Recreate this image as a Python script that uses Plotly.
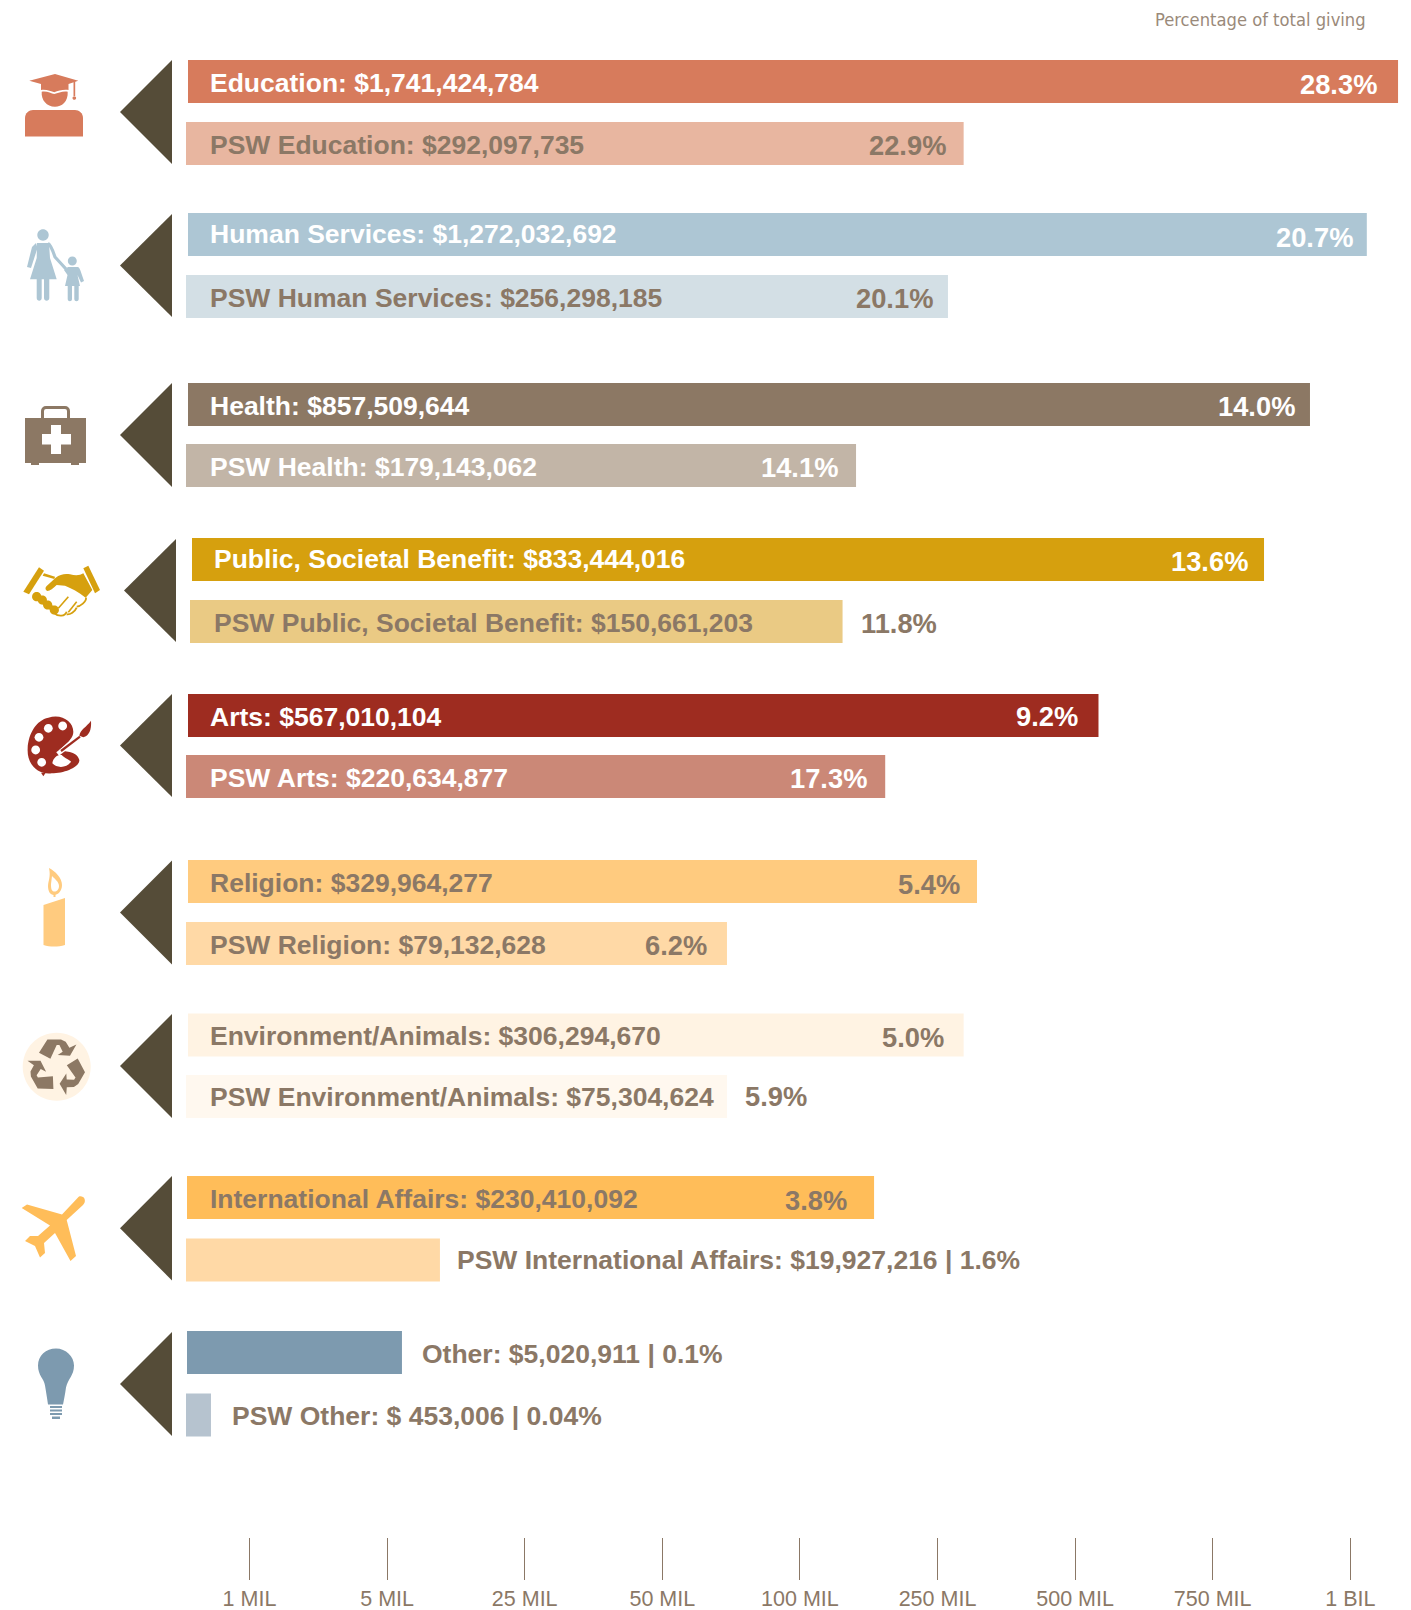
import math
import re
import plotly.graph_objects as go

# ---------- data ----------
categories = ["Education", "Human Services", "Health", "Public, Societal Benefit", "Arts",
              "Religion", "Environment/Animals", "International Affairs", "Other"]
total_amounts = ["$1,741,424,784", "$1,272,032,692", "$857,509,644", "$833,444,016", "$567,010,104",
                 "$329,964,277", "$306,294,670", "$230,410,092", "$5,020,911"]
psw_amounts = ["$292,097,735", "$256,298,185", "$179,143,062", "$150,661,203", "$220,634,877",
               "$79,132,628", "$75,304,624", "$19,927,216", "$ 453,006"]
total_pct = ["28.3%", "20.7%", "14.0%", "13.6%", "9.2%", "5.4%", "5.0%", "3.8%", "0.1%"]
psw_pct = ["22.9%", "20.1%", "14.1%", "11.8%", "17.3%", "6.2%", "5.9%", "1.6%", "0.04%"]
# bar ends as read on the chart's tick-indexed axis (0 = 1 MIL ... 8 = 1 BIL)
total_end = [8.347, 8.12, 7.707, 7.373, 6.17, 5.287, 5.19, 4.539, 1.108]
psw_end = [5.19, 5.076, 4.408, 4.31, 4.62, 3.47, 3.47, 1.384, -0.28]
tick_labels = ["1 MIL", "5 MIL", "25 MIL", "50 MIL", "100 MIL", "250 MIL", "500 MIL", "750 MIL", "1 BIL"]

# ---------- styles ----------
total_colors = ["#D77B5C", "#ADC6D4", "#8C7864", "#D6A00E", "#9E2C20", "#FFCB7F", "#FFF3E3", "#FFBD59", "#7D9AAF"]
psw_colors = ["#E8B6A0", "#D3DFE5", "#C2B5A7", "#EACA84", "#CB8877", "#FFD9A6", "#FFF8EF", "#FFD9A6", "#B6C3CF"]
icon_colors = total_colors
BROWN = "#8B7866"
WHITE = "#FFFFFF"
NONE = "rgba(0,0,0,0)"
TRI = "#554C38"
W, H = 1411, 1610
PLOT_H = 1537
TICK0, TICKSTEP = 249.5, 137.6
total_text_color = [WHITE] * 5 + [BROWN] * 4
psw_text_color = [BROWN, BROWN, WHITE, BROWN, WHITE, BROWN, BROWN, BROWN, BROWN]

# ---------- layout constants (pixels in the page) ----------
BAR_H = 43
total_tops = [60, 213, 383, 538, 694, 860, 1013.5, 1176, 1331]
psw_tops = [122, 275, 444, 600, 755, 922, 1075, 1238.5, 1393.5]
total_start = [188, 188, 188, 192, 188, 188, 188, 187, 187]
psw_start = [186, 186, 186, 190, 186, 186, 186, 186, 186]
total_label_x = [210] * 3 + [214] + [210] * 4 + [421.5]
psw_label_x = [210] * 3 + [214] + [210] * 3 + [456.5, 231.5]
total_label_y = [83, 234, 405.5, 558.5, 716.5, 883, 1036, 1199, 1354]
psw_label_y = [145, 298, 467, 623, 778, 944.5, 1096.5, 1260, 1416]
total_pct_r = [1376.5, 1353, 1294.5, 1247.5, 1078, 959.5, 943.5, 846.5, None]
psw_pct_r = [945.5, 932.5, 837.5, 936.5, 867, 706.5, 807, None, None]
total_pct_y = [84, 237, 406.5, 561.5, 716.5, 884, 1037, 1200, None]
psw_pct_y = [145, 298, 467, 623, 778, 945.5, 1096.5, None, None]
tri_tops = [60, 214, 383, 539, 694, 860.5, 1014, 1176, 1332]
tri_bottoms = [164, 317, 487, 642, 797, 964.5, 1118, 1280.5, 1436]
tri_x = [(120, 172)] * 3 + [(124, 176)] + [(120, 172)] * 5


def to_axis(px):
    return (px - TICK0) / TICKSTEP


fig = go.Figure()
fig.add_trace(go.Bar(
    name="Total", orientation="h",
    base=[to_axis(s) for s in total_start],
    x=[e - to_axis(s) for e, s in zip(total_end, total_start)],
    y=[t + BAR_H / 2 for t in total_tops], width=BAR_H,
    marker=dict(color=total_colors, line_width=0), hoverinfo="skip"))
fig.add_trace(go.Bar(
    name="PSW", orientation="h",
    base=[to_axis(s) for s in psw_start],
    x=[e - to_axis(s) for e, s in zip(psw_end, psw_start)],
    y=[t + BAR_H / 2 for t in psw_tops], width=BAR_H,
    marker=dict(color=psw_colors, line_width=0), hoverinfo="skip"))
# invisible trace that activates the pixel-based overlay axis
fig.add_trace(go.Scatter(x=[0, W], y=[0, 0], xaxis="x2", mode="none", hoverinfo="skip", showlegend=False))

annotations = []


def label(x, y, text, color, anchor="left", size=26.5):
    annotations.append(dict(x=x, y=y, xref="x2", yref="y", text=text, showarrow=False,
                            xanchor=anchor, yanchor="middle", align=anchor, borderpad=0, borderwidth=0,
                            font=dict(color=color, family="Liberation Sans", size=size, weight=700)))


for i, cat in enumerate(categories):
    t_txt = f"{cat}: {total_amounts[i]}"
    if total_pct_r[i] is None:
        t_txt += f" | {total_pct[i]}"
    else:
        label(total_pct_r[i], total_pct_y[i], total_pct[i], total_text_color[i], "right", 27.3)
    label(total_label_x[i], total_label_y[i], t_txt, total_text_color[i])
    p_txt = f"PSW {cat}: {psw_amounts[i]}"
    if psw_pct_r[i] is None:
        p_txt += f" | {psw_pct[i]}"
    else:
        label(psw_pct_r[i], psw_pct_y[i], psw_pct[i], psw_text_color[i], "right", 27.3)
    label(psw_label_x[i], psw_label_y[i], p_txt, psw_text_color[i])

annotations.append(dict(x=1365.5, y=19, xref="x2", yref="y", text="Percentage of total giving", showarrow=False,
                        xanchor="right", yanchor="middle", borderpad=0, borderwidth=0,
                        font=dict(family="DejaVu Sans Condensed, DejaVu Sans", size=18.2, color="#9A8A7A")))

# ---------- decorative shapes ----------
shapes = []


def add(path, fill, lw=0, lc=None):
    shapes.append(dict(type="path", path=path, xref="x2", yref="y", layer="above",
                       fillcolor=fill, line=dict(width=lw, color=lc or fill)))


def zp(x0, y0, path):
    """Map 'u,v' pairs measured on a 3x view with origin (x0, y0) to page pixels."""
    return re.sub(r"(-?\d+\.?\d*),(-?\d+\.?\d*)",
                  lambda m: f"{x0 + float(m[1]) / 3:.2f},{y0 + float(m[2]) / 3:.2f}", path)


def circle(cx, cy, rx, ry=None):
    ry = rx if ry is None else ry
    k = 0.5523
    return (f"M{cx-rx},{cy} C{cx-rx},{cy-k*ry} {cx-k*rx},{cy-ry} {cx},{cy-ry} "
            f"C{cx+k*rx},{cy-ry} {cx+rx},{cy-k*ry} {cx+rx},{cy} "
            f"C{cx+rx},{cy+k*ry} {cx+k*rx},{cy+ry} {cx},{cy+ry} "
            f"C{cx-k*rx},{cy+ry} {cx-rx},{cy+k*ry} {cx-rx},{cy} Z")


def poly(pts):
    return "M" + " L".join(f"{x:.1f},{y:.1f}" for x, y in pts) + " Z"


for (x0, x1), t, b in zip(tri_x, tri_tops, tri_bottoms):
    add(poly([(x1, t), (x1, b), (x0, (t + b) / 2)]), TRI)

# graduate
c = icon_colors[0]
add("M25,118 C25,113 29,110 33,110 H75 C79,110 83,113 83,118 V136.5 H25 Z", c)
add("M41.7,91.7 C46.7,90.7 51,93.3 54.3,94 C58.3,92.7 63.3,90.7 67.7,91.7 C68.3,101.7 61.7,106.7 55,106.7 "
    "C46.7,106.7 41,100 41.7,91.7 Z", c)
add("M29.3,80.7 L55,74 L78.3,80.7 L68.5,84 V90 C63.3,89.3 58.3,90.7 54.3,92.3 C51,91.3 46.7,89.3 41,90 V84 Z", c)
add("M73.5,81 H75.2 V96 H73.5 Z", c)
add(circle(74.3, 98, 1.8), c)
# family
c = icon_colors[1]
add(circle(43, 235, 5.7), c)
add("M37,243 H49 L50,258 L56.7,279.3 H30 L36.7,258 Z", c)
add(poly([(36, 243), (37.5, 248), (31, 268), (27, 267), (32, 247)]), c)
add("M48,243.5 C51,245 53,251 55,257 L66,269", NONE, 3.2, c)
add("M36.7,279 H41.7 V298 C41.7,301.5 36.7,301.5 36.7,298 Z M44,279 H49.3 V298 C49.3,301.5 44,301.5 44,298 Z", c)
add(circle(72.3, 261, 4.5), c)
add("M68,267 H78 C80,268 81,272 84,281 L81,282.5 L77.5,275 L80,286 H65 L67.5,275 L64,270 Z", c)
add("M67.7,286 H72 V299 C72,302 67.7,302 67.7,299 Z M74.3,286 H78.7 V299 C78.7,302 74.3,302 74.3,299 Z", c)
# medical bag
c = icon_colors[2]
add("M25,418 H86 V463 H79 V465 H71 V463 H39 V465 H31 V463 H25 Z", c)
add("M42.5,418 V411 C42.5,409 44,407.5 46,407.5 H65 C67,407.5 68.5,409 68.5,411 V418", NONE, 3, c)
add("M51,425 H61 V434 H71 V444.5 H61 V454 H51 V444.5 H42 V434 H51 Z", WHITE)
# handshake
c = icon_colors[3]
add(zp(15, 555, "M25,110 L72,37 L87,47 L42,118 Z"), c)
add(zp(15, 555, "M205,40 L220,32 L255,105 L240,115 Z"), c)
add(zp(15, 555, "M205,55 L232,105 L212,128 C190,110 170,100 150,92 L125,90 C115,100 105,108 97,108 "
                "C90,105 90,98 95,93 L122,68 C135,58 150,55 165,58 C180,62 195,62 205,55 Z"), c)
add(zp(15, 555, "M87,55 L120,65 L118,72 L83,62 Z"), c)
add(zp(15, 555, "M65,125 L118,165"), NONE, 5, c)
for u, v in [(65, 125), (82, 135), (98, 150), (118, 165)]:
    add(circle(15 + u / 3, 555 + v / 3, 4.6), c)
add(zp(15, 555, "M118,175 C130,185 150,185 155,170"), NONE, 1.8, c)
add(zp(15, 555, "M155,178 C165,180 180,170 185,158"), NONE, 1.8, c)
add(zp(15, 555, "M185,155 C195,155 215,140 213,128"), NONE, 1.8, c)
add(zp(15, 555, "M130,160 L160,125"), NONE, 1.6, c)
add(zp(15, 555, "M160,172 L185,140"), NONE, 1.6, c)
# palette
c = icon_colors[4]
add(zp(15, 705, "M100,38 C140,25 175,50 175,80 C175,95 165,105 155,115 L133,135 C145,142 185,135 193,165 "
                "C195,185 150,205 110,205 C70,210 35,180 38,130 C40,85 65,45 100,38 Z"), c)
add(zp(15, 705, "M78,203 L92,203 L85,214 Z"), c)
for u, v in [(100, 70), (143, 63), (72, 97), (62, 135), (80, 172)]:
    add(circle(15 + u / 3, 705 + v / 3, 4.4), WHITE)
add(zp(15, 705, "M112,175 C115,155 130,148 140,150 C150,160 165,165 168,170 C155,190 125,190 112,175 Z"), WHITE)
add(zp(15, 705, "M128,147 L190,98"), NONE, 4.5, WHITE)
add(zp(15, 705, "M138,138 L195,95"), NONE, 2.2, c)
add(zp(15, 705, "M193,92 C195,75 215,65 228,47 C230,75 222,92 205,97 Z"), c)
# candle
c = icon_colors[5]
add("M43.5,905 L65,898 V945 C58,947 50,947 43.5,945 Z", c)
add("M53.5,897 V892 H55.5 V897 Z", c)
add("M49,868 C55,871 62,878 62,885 C62,891 58,895 54,895 C50,895 48,891 48,886 C48,881 51,877 49,868 Z", c)
add("M52,876 C55,879 59,882 59,886 C59,890 56,892 54,891.5 C51,891 51,887 51,884 Z", WHITE)
# recycle
add(circle(56.7, 1066.7, 34, 34), icon_colors[6])
arrow = [(72, 83), (97, 43), (138, 43), (152, 50), (163, 68), (184, 58), (165, 92), (128, 90), (143, 80),
         (133, 60), (125, 60), (106, 101)]
for a in (0, 120, 240):
    r = math.radians(a)
    pts = []
    for u, v in arrow:
        dx, dy = (u - 125) / 3, (v - 125) / 3
        pts.append((56.7 + dx * math.cos(r) - dy * math.sin(r), 1066.7 + dx * math.sin(r) + dy * math.cos(r)))
    add(poly(pts), icon_colors[2])
# plane
add("M78,1197.5 L62,1214.5 L27,1204.5 L21.7,1208 L50,1225.5 L38,1236 L30,1236 L25,1241 L35,1246 L40,1257.5 "
    "L45,1253 L44,1243 L55,1233 L70.5,1261 L76,1256 L66.7,1220 L83,1205 C86,1202 85,1198 83,1197 C81,1196 79,1196 78,1197.5 Z",
    icon_colors[7])
# bulb
c = icon_colors[8]
add("M56,1348.5 C66,1348.5 74,1356.5 74,1365.5 C74,1375.5 68,1378.5 66,1387.5 C65,1394.5 64,1399.5 63,1404.5 H48 "
    "C47,1397.5 46,1391.5 45,1385.5 C44,1378.5 38,1375.5 38,1365.5 C38,1355.5 46,1348.5 56,1348.5 Z", c)
for y0, y1, x0, x1 in [(1406, 1408, 50, 62), (1409.5, 1411.5, 50, 62), (1413, 1415, 50, 62), (1416.5, 1419, 52, 60)]:
    add(f"M{x0},{y0} H{x1} V{y1} H{x0} Z", c)

fig.update_layout(
    width=W, height=H, margin=dict(l=0, r=0, t=0, b=H - PLOT_H),
    paper_bgcolor=WHITE, plot_bgcolor=WHITE, showlegend=False, barmode="overlay",
    xaxis=dict(range=[to_axis(0), to_axis(W)], tickmode="array", tickvals=list(range(len(tick_labels))),
               ticktext=tick_labels, ticks="outside", ticklen=42, tickwidth=1, tickcolor=BROWN,
               tickfont=dict(family="Liberation Sans", size=21.5, color=BROWN),
               showgrid=False, zeroline=False, showline=False, fixedrange=True),
    xaxis2=dict(range=[0, W], overlaying="x", anchor="y", visible=False, fixedrange=True),
    yaxis=dict(range=[PLOT_H, 0], visible=False, fixedrange=True),
    annotations=annotations, shapes=shapes,
)
fig.write_html("out.html", config={"displayModeBar": False},
               post_script="document.body.style.margin='0';document.body.style.overflow='hidden';")
